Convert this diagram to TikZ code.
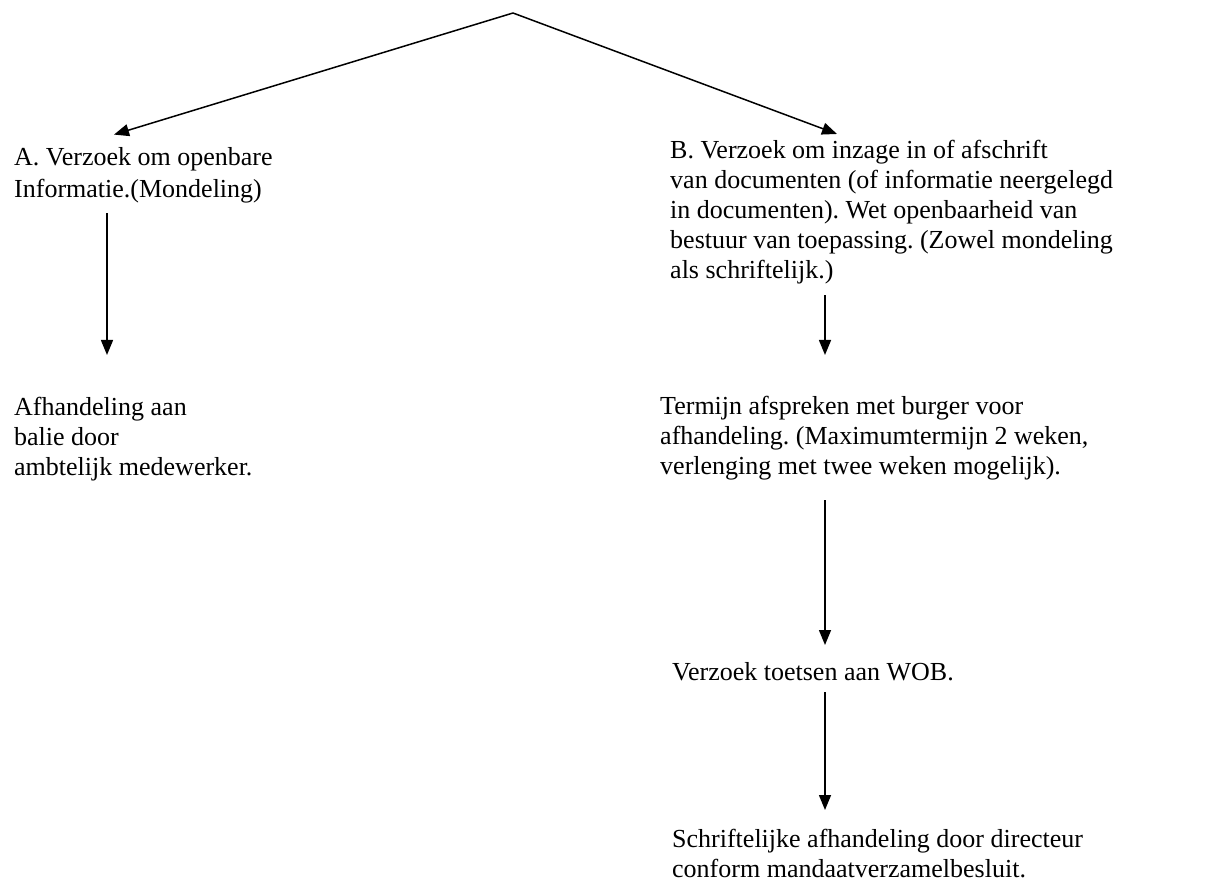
\documentclass[tikz,border=0pt]{standalone}
\usepackage{fontspec}
\setmainfont{Liberation Serif}
\usetikzlibrary{arrows.meta,calc}
\frenchspacing
\begin{document}
\begin{tikzpicture}[x=1pt,y=-1pt,
  txt/.style={anchor=north west,inner sep=0pt,align=left,font=\fontsize{26}{30}\selectfont},
  arr/.style={line width=1.5pt,-{Triangle[length=15pt,width=12pt]}}]
\useasboundingbox (0,0) rectangle (1211,882);
\fill[white] (0,0) rectangle (1211,882);
% text blocks
\node[txt,font=\fontsize{26}{32}\selectfont] (A) at (14,142.6) {\strut A. Verzoek om openbare\\Informatie.(Mondeling)};
\node[txt] (Af) at (14,394) {\strut Afhandeling aan\\balie door\\ambtelijk medewerker.};
\node[txt] (B) at (670,137) {\strut B. Verzoek om inzage in of afschrift\\van documenten (of informatie neergelegd\\in documenten). Wet openbaarheid van\\bestuur van toepassing. (Zowel mondeling\\als schriftelijk.)};
\node[txt] (T) at (660,393) {\strut Termijn afspreken met burger voor\\afhandeling. (Maximumtermijn 2 weken,\\verlenging met twee weken mogelijk).};
\node[txt] (W) at (672,659) {\strut Verzoek toetsen aan WOB.};
\node[txt] (S) at (672,826) {\strut Schriftelijke afhandeling door directeur\\conform mandaatverzamelbesluit.};
% top split
\coordinate (apex) at (513,13);
\coordinate (tipA) at ($(A.north west)+(100,-8)$);
\coordinate (tipB) at ($(B.north west)+(167,-3)$);
\draw[arr] (apex) -- (tipA);
\draw[arr] (apex) -- (tipB);
% vertical arrows
\draw[arr] ($(A.south west)+(93,10.4)$) -- ($(Af.north west)+(93,-39)$);
\draw[arr] ($(B.south west)+(155,11.4)$) -- ($(T.north west)+(165,-38)$);
\draw[arr] ($(T.south west)+(165,20.4)$) -- ($(W.north west)+(153,-14)$);
\draw[arr] ($(W.south west)+(153,3)$) -- ($(S.north west)+(153,-16)$);
\end{tikzpicture}
\end{document}
